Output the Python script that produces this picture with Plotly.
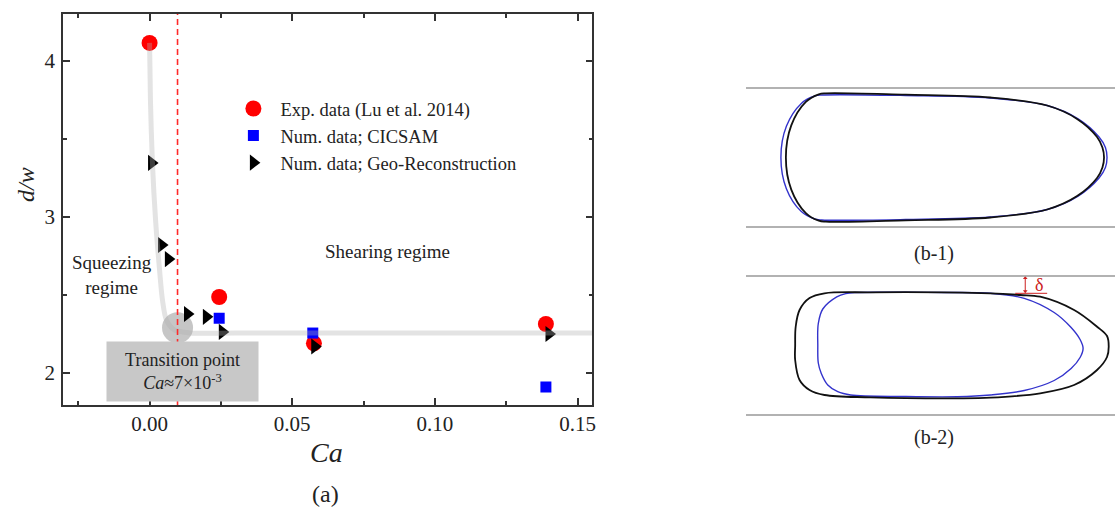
import plotly.graph_objects as go

W, H = 1118, 515
FONT = "Liberation Serif, Times New Roman, serif"

# ---------------- data (panel a) ----------------
exp_ca = [0.000, 0.0244, 0.0576, 0.1389]
exp_dw = [4.115, 2.487, 2.190, 2.314]

cicsam_ca = [0.0244, 0.0572, 0.1389]
cicsam_dw = [2.350, 2.256, 1.910]

geo_ca = [0.0007, 0.0042, 0.0066, 0.0133, 0.0199, 0.0255, 0.0579, 0.1400]
geo_dw = [3.346, 2.820, 2.730, 2.378, 2.360, 2.263, 2.170, 2.250]

# guide curve (hand-drawn trend in the original)
curve_ca = [0.0, 0.0003, 0.0010, 0.0021, 0.0035, 0.0045, 0.0059, 0.0087, 0.0140, 0.0300, 0.1600]
curve_dw = [4.115, 3.750, 3.346, 2.980, 2.660, 2.470, 2.340, 2.276, 2.257, 2.256, 2.256]

transition_ca = 0.0098
transition_dw = 2.29

x_ticks = [0.00, 0.05, 0.10, 0.15]
x_ticklabels = ["0.00", "0.05", "0.10", "0.15"]
y_ticks = [2, 3, 4]
y_ticklabels = ["2", "3", "4"]

# ---------------- sketch outlines (panels b-1, b-2), drawing units ----------------
wall_half = 69.5
b1_black_x = [160, 80, 73, 60, 45.4, 40, 45.4, 60, 73, 80, 160, 245, 302, 332, 352, 357.4, 359, 357.4, 352, 332, 302, 245, 160]
b1_black_y = [62.8, 64.2, 63.2, 55.6, 32.1, 0, -32.1, -55.6, -63.2, -64.2, -62.8, -60, -52, -38.6, -20.5, -10, 0, 10, 20.5, 38.6, 52, 60, 62.8]
b1_blue_x = [160, 76, 68.9, 55.5, 40.5, 35, 40.5, 55.5, 68.9, 76, 160, 245, 302, 333, 354, 360.4, 362, 360.4, 354, 333, 302, 245, 160]
b1_blue_y = [62, 62.5, 61.5, 54.1, 31.2, 0, -31.2, -54.1, -61.5, -62.5, -62, -59.5, -52, -38.6, -20.5, -10, 0, 10, 20.5, 38.6, 52, 59.5, 62]

b2_black_x = [125, 78.7, 63.7, 53.7, 49.8, 49.3, 49.3, 53.7, 63.7, 78.7, 125, 212, 245, 295, 329, 352, 362, 363.7, 362, 352, 329, 295, 275, 245, 125]
b2_black_y = [53.2, 52.2, 47.5, 35.5, 18.5, 0, -14.5, -34.5, -44.5, -49.5, -51.8, -52.8, -52.2, -47.8, -39.5, -24.5, -11.5, -1.2, 9.5, 18.8, 35.5, 48.8, 50.5, 52.2, 53.2]
b2_blue_x = [159, 110, 100, 91, 77, 72.5, 72, 72.5, 75.5, 82, 92, 105, 160, 212, 245, 279, 309, 326, 335, 338, 335, 326, 309, 279, 245, 200, 159]
b2_blue_y = [53.2, 53, 51.9, 48.6, 36.5, 22, 0, -17.5, -28, -39.5, -46.2, -49.5, -51, -51.2, -49.5, -45, -35, -23, -12, -3, 6, 18, 33, 47.2, 52.2, 53, 53.2]
delta_x = 280
delta_y_film = 52.2


def px(xp):
    return xp / W


def py(yp):
    return 1 - yp / H


fig = go.Figure()

# transition point disc
fig.add_trace(go.Scatter(x=[transition_ca], y=[transition_dw], mode="markers",
                         marker=dict(size=31, color="rgb(198,198,198)"),
                         showlegend=False, hoverinfo="skip"))
fig.add_trace(go.Scatter(x=exp_ca, y=exp_dw, mode="markers", name="Exp. data (Lu et al. 2014)",
                         marker=dict(symbol="circle", size=16, color="#ff0000")))
fig.add_trace(go.Scatter(x=cicsam_ca, y=cicsam_dw, mode="markers", name="Num. data; CICSAM",
                         marker=dict(symbol="square", size=11, color="#0000ff")))
fig.add_trace(go.Scatter(x=geo_ca, y=geo_dw, mode="markers", name="Num. data; Geo-Reconstruction",
                         marker=dict(symbol="triangle-right", size=14, color="#000000")))
fig.add_trace(go.Scatter(x=curve_ca, y=curve_dw, mode="lines",
                         line=dict(color="rgba(176,176,176,0.35)", width=5, shape="spline", smoothing=0.8),
                         showlegend=False, hoverinfo="skip"))

# sketches
for xs, ys, col, wd, ax in [
    (b1_blue_x, b1_blue_y, "#3333cc", 1.4, 2),
    (b1_black_x, b1_black_y, "#111111", 1.8, 2),
    (b2_blue_x, b2_blue_y, "#3333cc", 1.4, 3),
    (b2_black_x, b2_black_y, "#111111", 1.8, 3),
]:
    fig.add_trace(go.Scatter(x=xs, y=ys, mode="lines", xaxis=f"x{ax}", yaxis=f"y{ax}",
                             line=dict(color=col, width=wd, shape="spline", smoothing=1.0),
                             showlegend=False, hoverinfo="skip"))

# delta dimension arrow
fig.add_trace(go.Scatter(x=[delta_x, delta_x], y=[wall_half - 2, delta_y_film + 2], mode="lines+markers",
                         xaxis="x3", yaxis="y3",
                         line=dict(color="#cc2020", width=1),
                         marker=dict(symbol=["triangle-up", "triangle-down"], size=4, color="#cc2020"),
                         showlegend=False, hoverinfo="skip"))

axis_common = dict(showline=True, linecolor="#333333", linewidth=1.5, mirror="ticks",
                   ticks="inside", ticklen=7, tickwidth=1.5, tickcolor="#333333",
                   showgrid=False, zeroline=False,
                   tickfont=dict(family=FONT, size=21, color="#222222"))

ITEMW = 44
fig.update_layout(
    width=W, height=H,
    margin=dict(l=0, r=0, t=0, b=0),
    paper_bgcolor="white", plot_bgcolor="white",
    font=dict(family=FONT, color="#222222"),
    xaxis=dict(domain=[px(63), px(594)], range=[-0.0304, 0.1552], tickvals=x_ticks, ticktext=x_ticklabels,
               minor=dict(ticks="inside", ticklen=4, tickwidth=1.5, tickcolor="#333333", dtick=0.025, tick0=0),
               ticklabelstandoff=-1, **axis_common),
    yaxis=dict(domain=[py(405), py(14)], range=[1.795, 4.30], tickvals=y_ticks, ticktext=y_ticklabels,
               minor=dict(ticks="inside", ticklen=4, tickwidth=1.5, tickcolor="#333333", dtick=0.5, tick0=0),
               ticklabelstandoff=2, **axis_common),
    xaxis2=dict(domain=[px(748), 1.0], range=[0, 370], visible=False),
    yaxis2=dict(domain=[py(231), py(84)], range=[-73.5, 73.5], visible=False),
    xaxis3=dict(domain=[px(748), 1.0], range=[0, 370], visible=False),
    yaxis3=dict(domain=[py(419), py(272)], range=[-73.5, 73.5], visible=False),
    legend=dict(x=px(281 - ITEMW - 10), y=py(90), xanchor="left", yanchor="top", bgcolor="rgba(0,0,0,0)",
                font=dict(family=FONT, size=18.5, color="#222222"), tracegroupgap=0, itemwidth=ITEMW),
    showlegend=True,
)

# dashed transition line
fig.add_shape(type="line", xref="x", yref="y domain", x0=transition_ca, x1=transition_ca, y0=0, y1=1,
              line=dict(color="#ff2a2a", width=1.6, dash="6px,4px"), layer="above")

# channel walls
for ax in (2, 3):
    for s in (1, -1):
        fig.add_shape(type="line", xref=f"x{ax} domain", yref=f"y{ax}", x0=0, x1=1,
                      y0=s * wall_half, y1=s * wall_half, line=dict(color="#999999", width=1.5))

# delta film line
fig.add_shape(type="line", xref="x3", yref="y3", x0=270, x1=302, y0=delta_y_film, y1=delta_y_film,
              line=dict(color="#cc2020", width=1))

ann = dict(showarrow=False, xanchor="center", yanchor="middle")
fig.add_annotation(xref="x3", yref="y3", x=294, y=60.5, text="δ",
                   font=dict(family=FONT, size=18, color="#cc2020"), **ann)
P = dict(xref="paper", yref="paper")
fig.add_annotation(x=px(327), y=py(452), text="<i>Ca</i>", font=dict(family=FONT, size=28, color="#222222"), **P, **ann)
fig.add_annotation(x=px(26), y=py(184), text="<i>d/w</i>", textangle=-90,
                   font=dict(family=FONT, size=24, color="#222222"), **P, **ann)
fig.add_annotation(x=px(326), y=py(494), text="(a)", font=dict(family=FONT, size=24, color="#222222"), **P, **ann)
fig.add_annotation(x=px(112), y=py(275), text="Squeezing<br>regime",
                   font=dict(family=FONT, size=19, color="#222222"), **P, **ann)
fig.add_annotation(x=px(389), y=py(251), text="Shearing regime",
                   font=dict(family=FONT, size=19, color="#222222"), **P, **ann)
fig.add_annotation(x=px(182.5), y=py(371.5), text="Transition point<br><i>Ca</i>≈7×10<sup>-3</sup>",
                   width=147, height=55, bgcolor="rgb(200,200,200)", borderpad=2,
                   font=dict(family=FONT, size=18, color="#222222"), **P, **ann)
fig.add_annotation(x=px(937), y=py(253), text="(b-1)", font=dict(family=FONT, size=20, color="#222222"), **P, **ann)
fig.add_annotation(x=px(937), y=py(437), text="(b-2)", font=dict(family=FONT, size=20, color="#222222"), **P, **ann)

fig.write_html("out.html", config={"displayModeBar": False},
               post_script="document.body.style.margin='0px';")
